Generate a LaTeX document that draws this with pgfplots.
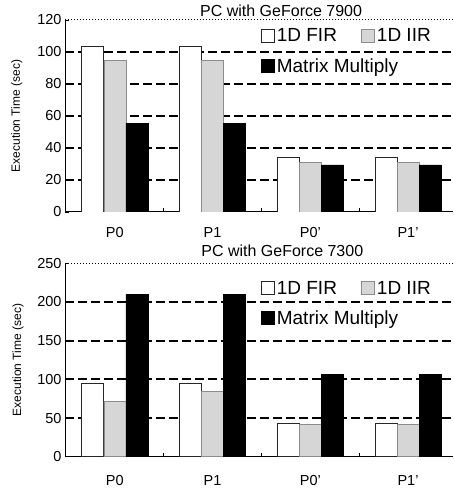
\documentclass[border=0pt]{standalone}
\usepackage{fontspec}
\setmainfont{Liberation Sans}
\usepackage{pgfplots}
\pgfplotsset{compat=1.18}
\pgfplotsset{
  common/.style={
    scale only axis, width=388pt,
    xmin=-0.51, xmax=3.46,
    axis x line*=bottom, axis y line*=left,
    axis line style={black, line width=1pt},
    ybar=0pt, bar width=22pt,
    tick align=inside,
    major tick length=4pt,
    tick style={black, line width=0.8pt},
    xtick={0.5,1.5,2.5}, xticklabels={},
    extra x ticks={0,1,2,3},
    extra x tick labels={P0,P1,P0',P1'},
    extra x tick style={major tick length=0pt},
    /pgf/number format/assume math mode=true,
    tick label style={font=\fontsize{14.5}{16}\selectfont},
    extra y tick labels={},
    extra y tick style={grid=major, major tick length=0pt},
    major grid style={black, line width=2pt, dash pattern=on 9pt off 4pt},
    ylabel={Execution Time (sec)},
    ylabel style={font=\fontsize{12}{14}\selectfont, anchor=center},
    title style={font=\fontsize{16}{18}\selectfont, anchor=base, inner sep=0pt},
    legend columns=2,
    legend image code/.code={\draw[#1, line width=0.7pt] (0pt,-6.5pt) rectangle (13pt,6.5pt);},
    legend style={draw=none, fill=none, inner sep=0pt, anchor=north west,
      font=\fontsize{19}{22}\selectfont, row sep=11pt,
      /tikz/every even column/.append style={column sep=-39pt},
      cells={anchor=west, inner sep=1.5pt}},
  },
  firbar/.style={draw=black!85, fill=white, line width=0.7pt},
  iirbar/.style={draw=black!45, fill=black!16, line width=0.5pt},
  mmbar/.style={draw=black, fill=black, line width=0.5pt},
}
\begin{document}
\begin{tikzpicture}
\begin{axis}[common,
  height=192pt,
  ymin=0, ymax=120, ytick={0,20,...,120},
  extra y ticks={20,40,60,80,100},
  x tick label style={yshift=-12pt},
  ylabel style={at={(axis description cs:-0.124,0.5)}},
  title={PC with GeForce 7900},
  title style={at={(axis description cs:0.557,1)}, yshift=-3pt},
  legend style={at={(axis description cs:0.505,0.965)}},
]
\addplot[firbar] coordinates {(0,103.3) (1,103.3) (2,34.2) (3,34.2)};
\addlegendentry{1D FIR}
\addplot[iirbar] coordinates {(0,94.6) (1,94.6) (2,31.0) (3,31.0)};
\addlegendentry{1D IIR}
\addplot[mmbar] coordinates {(0,55.4) (1,55.4) (2,29.4) (3,29.4)};
\addlegendentry{Matrix Multiply}
\draw[black, dotted, line width=1pt] (rel axis cs:0,1) -- (rel axis cs:1,1);
\end{axis}
\begin{axis}[common, at={(0pt,-244.7pt)},
  height=193.4pt,
  ymin=0, ymax=250, ytick={0,50,...,250},
  extra y ticks={50,100,150,200},
  x tick label style={yshift=-15pt},
  ylabel style={at={(axis description cs:-0.121,0.5)}},
  title={PC with GeForce 7300},
  title style={at={(axis description cs:0.56,1)}, yshift=1pt},
  legend style={at={(axis description cs:0.505,0.92)}},
]
\addplot[firbar] coordinates {(0,94.9) (1,94.9) (2,43.1) (3,43.1)};
\addlegendentry{1D FIR}
\addplot[iirbar] coordinates {(0,72.0) (1,84.0) (2,41.9) (3,41.9)};
\addlegendentry{1D IIR}
\addplot[mmbar] coordinates {(0,209.9) (1,209.9) (2,106.5) (3,106.5)};
\addlegendentry{Matrix Multiply}
\draw[black, dotted, line width=1pt] (rel axis cs:0,1) -- (rel axis cs:1,1);
\end{axis}
\pgfresetboundingbox
\useasboundingbox (-65pt,-277pt) rectangle (388pt,212pt);
\end{tikzpicture}
\end{document}
